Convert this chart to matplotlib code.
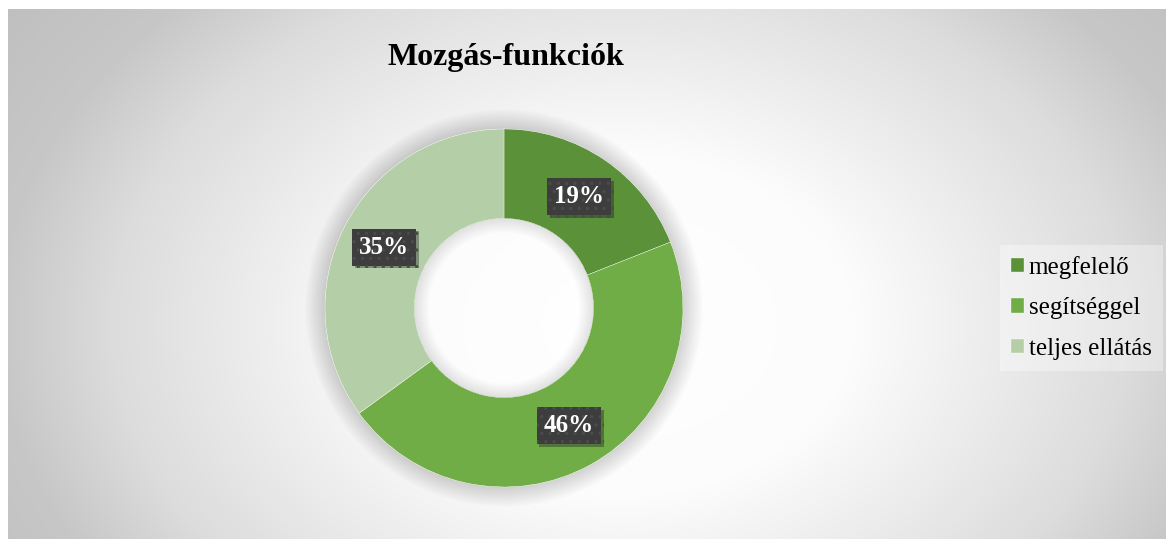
import numpy as np
import matplotlib
matplotlib.use("Agg")
import matplotlib.pyplot as plt
from matplotlib.patches import Wedge
import matplotlib.patheffects as pe

# data
categories = ["megfelelő", "segítséggel", "teljes ellátás"]
shares = [19, 46, 35]
pct_labels = ["19%", "46%", "35%"]
colors = ["#5b9138", "#70ad47", "#b4cfa7"]
title = "Mozgás-funkciók"

W, H = 1166, 539
plt.rcParams["font.family"] = ["Liberation Serif", "DejaVu Serif"]
plt.rcParams["hatch.linewidth"] = 1.2

fig = plt.figure(figsize=(W / 100, H / 100), dpi=100)
fig.patch.set_facecolor("white")

# radial grey background (chart area starts a few px in from left/top)
bg = fig.add_axes([8 / W, 0, (W - 8) / W, (H - 9) / H])
xs = np.arange(8, W) + 0.5
ys = np.arange(9, H) + 0.5
X, Y = np.meshgrid(xs, ys)
d = np.sqrt(((X - 620) / 620) ** 2 + ((Y - 325) / 453) ** 2)
g = np.interp(d, [0, 0.38, 0.82, 1.0, 1.3], [255, 252, 220, 199, 188]) / 255
bg.imshow(np.dstack([g, g, g]), aspect="auto", interpolation="bilinear")
bg.set_axis_off()

# donut axes, centre (504, 308) px, outer radius 179 px
R = 179
ax = fig.add_axes([(504 - 1.25 * R) / W, (H - 308 - 1.25 * R) / H,
                   2.5 * R / W, 2.5 * R / H])
ax.patch.set_alpha(0)

ring = 0.5
# soft shadow around the ring and inside the hole
n = 14
for i in range(1, n + 1):
    ax.add_patch(Wedge((0, 0), 1 + 0.11 * i / n, 0, 360, width=0.11 * i / n,
                       fc="black", alpha=0.011, lw=0, zorder=0))
    ax.add_patch(Wedge((0, 0), 1 - ring, 0, 360, width=0.08 * i / n,
                       fc="black", alpha=0.008, lw=0, zorder=3))

wedges, _ = ax.pie(shares, colors=colors, startangle=90, counterclock=False,
                   radius=1, wedgeprops=dict(width=ring, edgecolor="white", linewidth=0.25))
ax.set_xlim(-1.25, 1.25)
ax.set_ylim(-1.25, 1.25)
ax.set_aspect("equal")

# percentage labels in dark boxes
mid_r = 1 - ring / 2
for w, lab in zip(wedges, pct_labels):
    ang = np.deg2rad((w.theta1 + w.theta2) / 2)
    t = ax.text(mid_r * np.cos(ang), mid_r * np.sin(ang), lab,
                ha="center", va="center", color="white", fontsize=18,
                fontweight="bold", zorder=5,
                bbox=dict(boxstyle="square,pad=0.28", fc="#3d3d3d",
                          ec="#4b4b4b", hatch="..", lw=0))
    t.get_bbox_patch().set_path_effects(
        [pe.SimplePatchShadow(offset=(2, -2), alpha=0.35), pe.Normal()])

fig.text(506 / W, 1 - 58 / H, title, ha="center", va="center",
         fontsize=23, fontweight="bold", color="black")

leg = fig.legend(wedges, categories, loc="center left",
                 bbox_to_anchor=(1000 / W, 1 - 308 / H),
                 fontsize=18, frameon=True, fancybox=False,
                 facecolor="white", framealpha=0.35, edgecolor="none",
                 handlelength=0.5, handleheight=0.5, handletextpad=0.2,
                 labelspacing=0.75, borderpad=0.45, borderaxespad=0)

fig.savefig("out.png", dpi=100)
